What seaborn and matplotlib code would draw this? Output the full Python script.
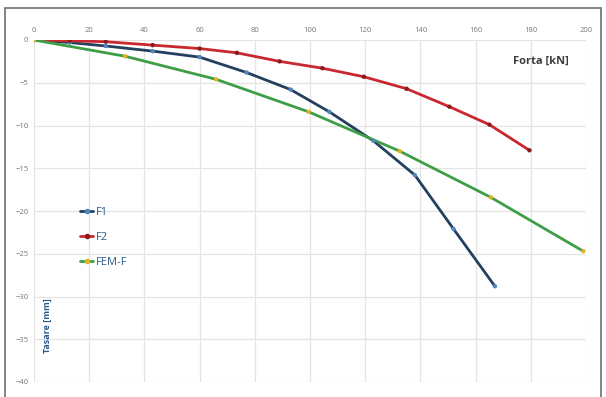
import matplotlib
matplotlib.use("Agg")
import matplotlib.pyplot as plt
import seaborn as sns
import pandas as pd
from matplotlib.patches import Rectangle
from matplotlib.lines import Line2D

# ---- data ----
f1_x = [0, 13, 26, 43, 60, 77, 93, 107, 123, 138, 152, 167]
f1_y = [0, -0.3, -0.7, -1.3, -2.0, -3.8, -5.8, -8.4, -11.8, -15.8, -22.1, -28.8]
f2_x = [0, 13, 26, 43, 60, 73.5, 89, 104.5, 119.5, 135, 150.5, 165, 179.5]
f2_y = [0, -0.1, -0.2, -0.6, -1.0, -1.5, -2.5, -3.3, -4.3, -5.7, -7.8, -9.9, -12.9]
fem_x = [0, 33, 66, 99.5, 132.5, 165.5, 199]
fem_y = [0, -1.9, -4.6, -8.4, -13.0, -18.4, -24.7]
series = ["F1", "F2", "FEM-F"]
x_ticks = list(range(0, 201, 20))
y_ticks = list(range(-40, 1, 5))

df = pd.concat([
    pd.DataFrame({"Forta": f1_x, "Tasare": f1_y, "Serie": series[0]}),
    pd.DataFrame({"Forta": f2_x, "Tasare": f2_y, "Serie": series[1]}),
    pd.DataFrame({"Forta": fem_x, "Tasare": fem_y, "Serie": series[2]}),
], ignore_index=True)

line_pal = {"F1": "#25405F", "F2": "#C8282E", "FEM-F": "#3E9E48"}
mark_pal = {"F1": "#4F86C0", "F2": "#8A1C1C", "FEM-F": "#E2B321"}

sns.set_theme(style="white")
plt.rcParams["font.family"] = ["Open Sans", "DejaVu Sans"]

fig = plt.figure(figsize=(6.06, 3.97), dpi=100)
ax = fig.add_axes([34/606, 1-382/397, (586-34)/606, (382-40)/397])

sns.lineplot(data=df, x="Forta", y="Tasare", hue="Serie", palette=line_pal,
             sort=False, estimator=None, linewidth=2.0, ax=ax, legend=False)
sns.scatterplot(data=df, x="Forta", y="Tasare", hue="Serie", palette=mark_pal,
                s=10, edgecolor="none", ax=ax, legend=False, zorder=5)

ax.set_xlim(0, 200)
ax.set_ylim(-40, 0)
ax.set_xticks(x_ticks)
ax.set_yticks(y_ticks)
ax.xaxis.tick_top()
ax.tick_params(axis="both", length=0, labelsize=5.5, labelcolor="#777777", pad=4)
ax.grid(True, color="#E4E4E4", linewidth=0.9)
for s in ax.spines.values():
    s.set_visible(False)
ax.set_xlabel("")
ax.set_ylabel("")

ax.text(0.968, 0.955, "Forta [kN]", transform=ax.transAxes, ha="right", va="top",
        fontsize=8, fontweight="bold", color="#3C3C3C")
ax.text(0.025, 0.165, "Tasare [mm]", transform=ax.transAxes, ha="center",
        va="center", rotation=90, fontsize=6.5, fontweight="bold", color="#2C5A8A")

# legend
handles = [Line2D([0], [0], color=line_pal[k], lw=2, marker="o", markersize=3,
                  markerfacecolor=mark_pal[k], markeredgecolor=mark_pal[k]) for k in series]
leg = ax.legend(handles, series, loc="upper left", bbox_to_anchor=(0.075, 0.525),
                frameon=False, fontsize=8, handlelength=1.2, handletextpad=0.2,
                labelspacing=1.25, borderaxespad=0)
for t in leg.get_texts():
    t.set_color("#2C5A8A")

fig.patches.append(Rectangle((5/606, -0.01), (601-5)/606, 1-8/397+0.01,
                             transform=fig.transFigure, fill=False,
                             edgecolor="#6E6E6E", linewidth=1.2))

fig.savefig("out.png", dpi=100)
